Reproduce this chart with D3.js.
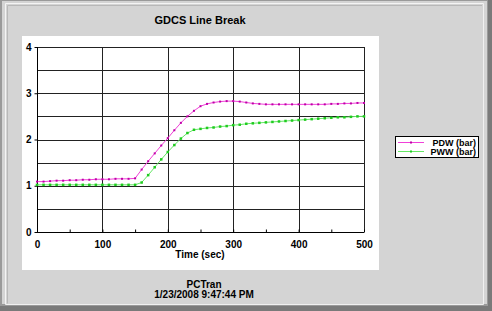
<!DOCTYPE html>
<html>
<head>
<meta charset="utf-8">
<script src="https://cdn.jsdelivr.net/npm/d3@7"></script>
<style>
body{margin:0;padding:0;background:#d4d4d4;}
svg{display:block;}
text{font-family:"Liberation Sans",Arial,sans-serif;font-weight:bold;}
</style>
</head>
<body>
<svg id="chart" width="492" height="311"></svg>
<script>
"use strict";

// 时间 (sec)，每 10 秒一个点
var times = d3.range(0, 501, 10);

// PDW (bar)
var pdw = [1.09,1.09,1.10,1.11,1.11,1.12,1.12,1.13,1.13,1.14,
           1.14,1.14,1.15,1.15,1.15,1.16,1.35,1.53,1.70,1.87,
           2.03,2.20,2.36,2.50,2.62,2.72,2.77,2.80,2.82,2.83,
           2.83,2.82,2.80,2.78,2.77,2.76,2.76,2.76,2.76,2.76,
           2.76,2.76,2.76,2.76,2.76,2.77,2.77,2.78,2.78,2.79,
           2.79];

// PWW (bar)
var pww = [1.02,1.02,1.02,1.02,1.02,1.02,1.02,1.02,1.02,1.02,
           1.02,1.02,1.02,1.02,1.02,1.02,1.07,1.23,1.40,1.57,
           1.73,1.88,2.02,2.14,2.21,2.23,2.25,2.26,2.28,2.29,
           2.31,2.32,2.34,2.35,2.36,2.37,2.38,2.39,2.40,2.41,
           2.42,2.43,2.44,2.45,2.46,2.47,2.48,2.48,2.49,2.50,
           2.50];

var seriesNames = ["PDW (bar)", "PWW (bar)"];
var xTicks = [0, 100, 200, 300, 400, 500];
var yTicks = [0, 1, 2, 3, 4];

var svg = d3.select("#chart");
var W = 492, H = 311;

//窗口边框
svg.append("rect").attr("x",0).attr("y",0).attr("width",W).attr("height",H).style("fill","#7a7a7a");
svg.append("rect").attr("x",0).attr("y",0).attr("width",W-4).attr("height",H-5).style("fill","#9a9a9a");
svg.append("rect").attr("x",2).attr("y",1).attr("width",W-7).attr("height",H-8).style("fill","#d4d4d4");
svg.append("path").attr("d","M5.5,304.5V3.5H483.5").style("fill","none").style("stroke","#f4f4f4");
svg.append("path").attr("d","M483.5,3.5V304.5H5.5").style("fill","none").style("stroke","#f0f0f0");
svg.append("path").attr("d","M7.5,303.5V5.5H482").style("fill","none").style("stroke","#b8b8b8");

//白色绘图背景
svg.append("rect").attr("x",22).attr("y",36).attr("width",357).attr("height",234).style("fill","#ffffff");

//标题
svg.append("text").attr("x",200).attr("y",24).attr("text-anchor","middle")
    .attr("font-size","11px").attr("fill","#000").text("GDCS Line Break");

var x = d3.scaleLinear().domain([0,500]).range([37,364]);
var y = d3.scaleLinear().domain([0,4]).range([232,47]);

var g = svg.append("g");

//网格
g.selectAll(".hgrid").data(d3.range(0.5,4.01,0.5)).enter().append("line")
    .attr("x1",x(0)).attr("x2",x(500))
    .attr("y1",function(d){return Math.round(y(d))+0.5;})
    .attr("y2",function(d){return Math.round(y(d))+0.5;})
    .style("stroke","#222").style("stroke-width",1);
g.selectAll(".vgrid").data(xTicks.slice(1)).enter().append("line")
    .attr("x1",function(d){return Math.round(x(d))+0.5;})
    .attr("x2",function(d){return Math.round(x(d))+0.5;})
    .attr("y1",y(4)).attr("y2",y(0))
    .style("stroke","#222").style("stroke-width",1);

//坐标轴
var xAxis = d3.axisBottom(x).tickValues(d3.range(0,501,50)).tickSize(-3).tickPadding(8)
    .tickFormat(function(d){return d%100===0?d:"";});
var gx = g.append("g").attr("transform","translate(0,"+(Math.round(y(0))+0.5)+")").call(xAxis);
gx.select(".domain").attr("d","M"+x(0)+",0H"+x(500)).style("stroke","#000");
gx.selectAll(".tick line").style("stroke","#000");
gx.selectAll("text").attr("font-size","10px").attr("font-family","Liberation Sans, Arial").attr("font-weight","bold").attr("fill","#000");

var yAxis = d3.axisLeft(y).tickValues(yTicks).tickSize(3).tickPadding(3).tickFormat(d3.format("d"));
var gy = g.append("g").attr("transform","translate("+(Math.round(x(0))+0.5)+",0)").call(yAxis);
gy.select(".domain").attr("d","M0,"+y(4)+"V"+y(0)).style("stroke","#000");
gy.selectAll(".tick line").style("stroke","#000");
gy.selectAll("text").attr("font-size","10px").attr("font-family","Liberation Sans, Arial").attr("font-weight","bold").attr("fill","#000");

svg.append("text").attr("x",200).attr("y",258).attr("text-anchor","middle")
    .attr("font-size","10px").attr("fill","#000").text("Time (sec)");

//曲线
var colors = ["#f040d8", "#66e866"];
var markColors = ["#c000a8", "#1fcc1f"];
var data = [pdw, pww];
var line = d3.line().x(function(d,i){return x(times[i]);}).y(function(d){return y(d);});

data.forEach(function(vals, k){
    g.append("path").datum(vals).attr("d",line)
        .style("fill","none").style("stroke",colors[k]).style("stroke-width",1);
    var sz = k===0 ? 2 : 2.5;
    g.selectAll(".m"+k).data(vals).enter().append("rect")
        .attr("x",function(d,i){return x(times[i])-sz/2;})
        .attr("y",function(d){return y(d)-sz/2;})
        .attr("width",sz).attr("height",sz)
        .style("fill",markColors[k]);
});

//图例
var lg = svg.append("g");
lg.append("rect").attr("x",395.5).attr("y",136.5).attr("width",83).attr("height",21)
    .style("fill","#fff").style("stroke","#000").style("stroke-width",1);
seriesNames.forEach(function(name, k){
    var ly = 142.5 + k*9;
    lg.append("line").attr("x1",398).attr("x2",424).attr("y1",ly).attr("y2",ly)
        .style("stroke",colors[k]).style("stroke-width",1);
    lg.append("rect").attr("x",410).attr("y",ly-1).attr("width",2).attr("height",2).style("fill",markColors[k]);
    lg.append("text").attr("x",476).attr("y",ly+3).attr("text-anchor","end")
        .attr("font-size","9px").attr("fill","#000").text(name);
});

//底部文字
svg.append("text").attr("x",204).attr("y",288).attr("text-anchor","middle")
    .attr("font-size","10px").attr("fill","#000").text("PCTran");
svg.append("text").attr("x",204).attr("y",298).attr("text-anchor","middle")
    .attr("font-size","10px").attr("fill","#000").text("1/23/2008 9:47:44 PM");
</script>
</body>
</html>
